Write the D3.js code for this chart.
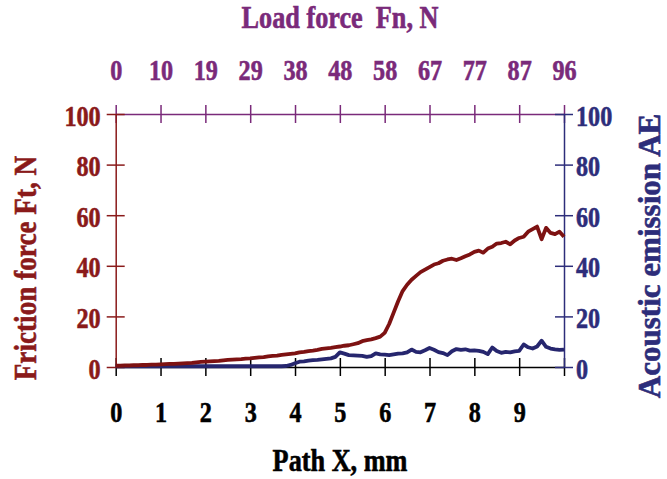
<!DOCTYPE html>
<html><head><meta charset="utf-8">
<script src="https://cdn.jsdelivr.net/npm/d3@7"></script>
<style>body{margin:0;background:#fff}svg{display:block}text{font-family:"Liberation Serif","Times New Roman",serif;font-weight:bold}</style>
</head><body>
<svg id="c" width="667" height="479"></svg>
<script>
// Path X, mm (sampled every 0.1 mm)
const pathX = d3.range(0, 101).map(i => i / 10);
const pathTicks = [0,1,2,3,4,5,6,7,8,9,10];
const pathLabels = ["0","1","2","3","4","5","6","7","8","9",""];
const loadLabels = ["0","10","19","29","38","48","58","67","77","87","96"];
const forceTicks = [0,20,40,60,80,100];
const aeTicks = [0,20,40,60,80,100];
const frictionForce = [
 0.5,0.5,0.6,0.6,0.7,0.7,0.8,0.8,0.9,0.9,1.0,
 1.1,1.2,1.2,1.3,1.4,1.5,1.6,1.8,2.0,2.1,
 2.2,2.3,2.4,2.6,2.8,2.9,3.0,3.1,3.3,3.4,
 3.6,3.8,3.9,4.2,4.4,4.5,4.8,5.0,5.2,5.4,
 5.8,6.0,6.3,6.5,6.8,7.2,7.4,7.6,7.9,8.1,
 8.4,8.6,9.0,9.4,10.2,10.6,10.9,11.4,12.0,13.5,
 17.0,21.5,26.0,30.0,32.5,34.5,36.0,37.5,38.5,39.5,
 40.5,41.0,42.0,42.5,42.8,42.3,43.0,43.8,44.5,45.5,
 46.0,45.2,46.8,47.5,48.8,49.0,49.5,48.5,50.0,51.0,
 51.5,53.5,54.5,55.5,50.5,55.0,53.0,52.5,53.5,51.5,55.0];
const acousticEmission = [
 0.3,0.3,0.3,0.3,0.3,0.3,0.3,0.3,0.3,0.3,0.3,
 0.3,0.3,0.3,0.3,0.3,0.3,0.3,0.3,0.3,0.3,
 0.3,0.3,0.3,0.3,0.3,0.3,0.3,0.3,0.3,0.3,
 0.3,0.3,0.3,0.3,0.3,0.3,0.3,0.4,0.8,1.5,
 2.1,2.2,2.5,2.7,2.8,3.0,3.2,3.4,4.0,5.8,
 5.3,4.7,4.6,4.5,4.4,4.0,4.3,5.4,5.0,4.9,
 4.7,5.0,5.3,5.4,5.8,6.9,6.0,5.8,6.6,7.5,
 6.8,5.9,5.5,4.7,6.2,7.1,6.8,7.0,6.5,6.6,
 6.4,6.0,5.1,7.7,6.3,5.6,6.0,5.8,6.2,6.4,
 8.9,7.8,7.3,8.1,10.4,8.0,7.3,7.0,6.8,6.9];

const RED = "#8a1a1a", LRED = "#7d1212", PUR = "#7a2a7a", NAV = "#2d2d7a", LNAV = "#26266e";
const L = 115.7, R = 564, T = 114, B = 367;
const SX = 0.82, TF = 29.5, HF = 32;

const svg = d3.select("#c");
const x = d3.scaleLinear().domain([0,10]).range([L,R]);
const yF = d3.scaleLinear().domain([0,100]).range([B,T]);
const yA = d3.scaleLinear().domain([0,100]).range([B,T]);

function styleAxis(g, color, tickDir) {
  g.select(".domain").attr("stroke", color).attr("stroke-width", 1.5);
  g.selectAll(".tick line").attr("stroke", color).attr("stroke-width", 1.5);
  if (tickDir === "v") g.selectAll(".tick line").attr("y1", -9).attr("y2", 9);
  else g.selectAll(".tick line").attr("x1", -9).attr("x2", 9);
  g.selectAll(".tick text").remove();
}
function bold(sel, color) {
  return sel.attr("fill", color).attr("stroke", color).attr("stroke-width", 0.6);
}

// bottom axis
const gB = svg.append("g").attr("transform", `translate(0,${B})`)
  .call(d3.axisBottom(x).tickValues(pathTicks).tickSizeOuter(0).tickFormat(""));
styleAxis(gB, "#000", "v");
bold(gB.selectAll(".tick").append("text").text((d,i) => pathLabels[i])
  .attr("transform", `translate(0,55) scale(${SX},1)`).attr("text-anchor","middle")
  .attr("font-size", TF), "#000");

// top axis
const gT = svg.append("g").attr("transform", `translate(0,${T})`)
  .call(d3.axisTop(x).tickValues(pathTicks).tickSizeOuter(0).tickFormat(""));
styleAxis(gT, PUR, "v");
bold(gT.selectAll(".tick").append("text").text((d,i) => loadLabels[i])
  .attr("transform", `translate(0,-34) scale(${SX},1)`).attr("text-anchor","middle")
  .attr("font-size", TF), PUR);

// left axis
const gL = svg.append("g").attr("transform", `translate(${L},0)`)
  .call(d3.axisLeft(yF).tickValues(forceTicks).tickSizeOuter(0).tickFormat(""));
styleAxis(gL, RED, "h");
bold(gL.selectAll(".tick").append("text").text(d => d)
  .attr("transform", `translate(-15,11) scale(${SX},1)`).attr("text-anchor","end")
  .attr("font-size", TF), RED);

// right axis
const gR = svg.append("g").attr("transform", `translate(${R},0)`)
  .call(d3.axisRight(yA).tickValues(aeTicks).tickSizeOuter(0).tickFormat(""));
styleAxis(gR, NAV, "h");
bold(gR.selectAll(".tick").append("text").text(d => d)
  .attr("transform", `translate(12,11) scale(${SX},1)`).attr("text-anchor","start")
  .attr("font-size", TF), NAV);

// lines
const lineF = d3.line().x((d,i) => x(pathX[i])).y(d => yF(d));
const lineA = d3.line().x((d,i) => x(pathX[i])).y(d => yA(d));
svg.append("path").datum(acousticEmission).attr("d", lineA)
  .attr("fill","none").attr("stroke", LNAV).attr("stroke-width", 3.8).attr("stroke-linejoin","round");
svg.append("path").datum(frictionForce).attr("d", lineF)
  .attr("fill","none").attr("stroke", LRED).attr("stroke-width", 3.8).attr("stroke-linejoin","round");

// titles
bold(svg.append("text").text("Load force  Fn, N")
  .attr("transform", `translate(340,28) scale(${SX},1)`).attr("text-anchor","middle")
  .attr("font-size", HF).style("white-space","pre"), PUR);
bold(svg.append("text").text("Path X, mm")
  .attr("transform", `translate(340,471) scale(${SX},1)`).attr("text-anchor","middle")
  .attr("font-size", HF), "#000");
bold(svg.append("text").text("Friction force Ft, N")
  .attr("transform", `translate(36,268) rotate(-90) scale(0.85,1)`).attr("text-anchor","middle")
  .attr("font-size", HF), RED);
bold(svg.append("text").text("Acoustic emission AE")
  .attr("transform", `translate(660,256) rotate(-90) scale(0.97,1)`).attr("text-anchor","middle")
  .attr("font-size", HF), NAV);
</script>
</body></html>
